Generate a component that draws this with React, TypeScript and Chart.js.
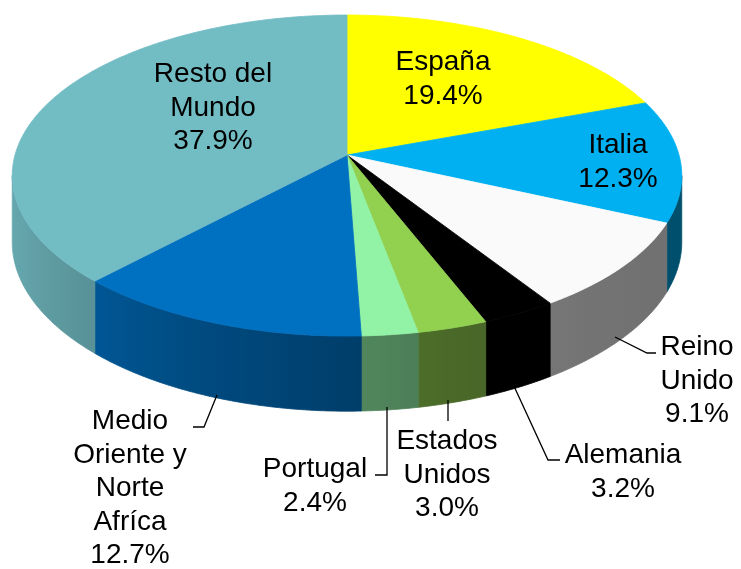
import React, { useEffect, useRef } from 'react';
import { Chart, registerables } from 'chart.js';

Chart.register(...registerables);

// ---- data ----
const categories = [
  'España',
  'Italia',
  'Reino Unido',
  'Alemania',
  'Estados Unidos',
  'Portugal',
  'Medio Oriente y Norte Afríca',
  'Resto del Mundo',
];
const shares = [19.4, 12.3, 9.1, 3.2, 3.0, 2.4, 12.7, 37.9];
const sliceColors = ['#FFFF00', '#00B0F0', '#FAFAFA', '#000000', '#92D050', '#92F2A6', '#0070C0', '#72BCC4'];
const labelLines = [
  ['España'],
  ['Italia'],
  ['Reino', 'Unido'],
  ['Alemania'],
  ['Estados', 'Unidos'],
  ['Portugal'],
  ['Medio', 'Oriente y', 'Norte', 'Afríca'],
  ['Resto del', 'Mundo'],
];

// ---- layout / style ----
const W = 741;
const H = 569;
const K = 0.128; // perspective strength
const SX = 332 / 140;
const SY = 157.9 / 140;
const DEPTH = 65.5 / 140;
const FONT = '28px "Liberation Sans", Arial, sans-serif';
const LINE_H = 33.5;

const labelPos = [
  { x: 443, y: 60 },
  { x: 618, y: 143 },
  { x: 697, y: 345 },
  { x: 623, y: 453 },
  { x: 447, y: 439 },
  { x: 315, y: 467 },
  { x: 130, y: 419 },
  { x: 213, y: 72 },
];
const leaders: number[][][] = [
  [],
  [],
  [[615, 337], [647, 353], [656, 353]],
  [[513, 384], [548, 460], [560, 460]],
  [[448, 400], [448, 421]],
  [[387, 407], [387, 475], [375, 475]],
  [[217, 395], [204, 427], [193, 427]],
  [],
];

function shade(hex: string, f: number): string {
  const n = parseInt(hex.slice(1), 16);
  const r = Math.round(((n >> 16) & 255) * f);
  const g = Math.round(((n >> 8) & 255) * f);
  const b = Math.round((n & 255) * f);
  return `rgb(${r},${g},${b})`;
}
const wallFactor = (a: number) => 0.45 + 0.45 * Math.pow((1 - Math.cos(a)) / 2, 2);

const pie3d = {
  id: 'pie3d',
  beforeDatasetsDraw(chart: any) {
    const meta = chart.getDatasetMeta(0);
    const arcs = meta.data as any[];
    if (!arcs.length) return false;
    const ctx: CanvasRenderingContext2D = chart.ctx;
    const cx = arcs[0].x;
    const cy = arcs[0].y;
    const R = arcs[0].outerRadius;
    const A = R * SX;
    const B = R * SY;
    const D = R * DEPTH;
    const proj = (a: number, down: boolean) => {
      const x = Math.cos(a);
      const y = Math.sin(a);
      const w = 1 - K * y;
      return [cx + (A * x) / w, cy + (B * y) / w + (down ? D / w : 0)];
    };
    const lo = Math.asin(K);
    const hi = Math.PI - lo;
    const colors = chart.data.datasets[0].backgroundColor as string[];

    ctx.save();
    ctx.lineJoin = 'round';
    // side walls
    arcs.forEach((arc, i) => {
      const a0 = Math.max(arc.startAngle, lo);
      const a1 = Math.min(arc.endAngle, hi);
      if (a1 <= a0) return;
      const n = Math.max(2, Math.ceil((a1 - a0) / 0.01));
      ctx.beginPath();
      for (let j = 0; j <= n; j++) {
        const p = proj(a0 + ((a1 - a0) * j) / n, false);
        if (j === 0) ctx.moveTo(p[0], p[1]);
        else ctx.lineTo(p[0], p[1]);
      }
      for (let j = n; j >= 0; j--) {
        const p = proj(a0 + ((a1 - a0) * j) / n, true);
        ctx.lineTo(p[0], p[1]);
      }
      ctx.closePath();
      const x0 = proj(a0, false)[0];
      const x1 = proj(a1, false)[0];
      let fill: any = shade(colors[i], wallFactor((a0 + a1) / 2));
      if (Math.abs(x1 - x0) > 0.5) {
        const g = ctx.createLinearGradient(x0, 0, x1, 0);
        for (let m = 0; m <= 10; m++) {
          const a = a0 + ((a1 - a0) * m) / 10;
          let t = (proj(a, false)[0] - x0) / (x1 - x0);
          t = Math.min(1, Math.max(0, t));
          g.addColorStop(t, shade(colors[i], wallFactor(a)));
        }
        fill = g;
      }
      ctx.fillStyle = fill;
      ctx.strokeStyle = fill;
      ctx.lineWidth = 0.8;
      ctx.fill();
      ctx.stroke();
    });
    // top faces
    arcs.forEach((arc, i) => {
      const s = arc.startAngle;
      const e = arc.endAngle;
      const n = Math.max(2, Math.ceil((e - s) / 0.01));
      ctx.beginPath();
      ctx.moveTo(cx, cy);
      for (let j = 0; j <= n; j++) {
        const p = proj(s + ((e - s) * j) / n, false);
        ctx.lineTo(p[0], p[1]);
      }
      ctx.closePath();
      ctx.fillStyle = colors[i];
      ctx.strokeStyle = colors[i];
      ctx.lineWidth = 0.8;
      ctx.fill();
      ctx.stroke();
    });
    ctx.restore();
    return false;
  },
  afterDraw(chart: any) {
    const ctx: CanvasRenderingContext2D = chart.ctx;
    const values = chart.data.datasets[0].data as number[];
    ctx.save();
    ctx.strokeStyle = '#000';
    ctx.lineWidth = 1.3;
    leaders.forEach((pts) => {
      if (!pts.length) return;
      ctx.beginPath();
      pts.forEach((p, j) => (j === 0 ? ctx.moveTo(p[0], p[1]) : ctx.lineTo(p[0], p[1])));
      ctx.stroke();
    });
    ctx.fillStyle = '#000';
    ctx.font = FONT;
    ctx.textAlign = 'center';
    ctx.textBaseline = 'alphabetic';
    labelLines.forEach((lines, i) => {
      const all = [...lines, `${values[i].toFixed(1)}%`];
      all.forEach((t, j) => {
        ctx.fillText(t, labelPos[i].x, labelPos[i].y + j * LINE_H + 10);
      });
    });
    ctx.restore();
  },
};

export default function App() {
  const ref = useRef<HTMLCanvasElement | null>(null);
  useEffect(() => {
    document.body.style.margin = '0';
    document.body.style.overflow = 'hidden';
    const canvas = ref.current;
    if (!canvas) return;
    const chart = new Chart(canvas, {
      type: 'pie',
      data: {
        labels: categories,
        datasets: [
          {
            data: shares,
            backgroundColor: sliceColors,
            borderWidth: 0,
            offset: 0,
            hoverOffset: 0,
          } as any,
        ],
      },
      options: {
        responsive: false,
        animation: false,
        devicePixelRatio: 1,
        events: [],
        layout: { padding: { left: 207, right: 254, top: 15, bottom: 274 } },
        plugins: { legend: { display: false }, tooltip: { enabled: false } },
      } as any,
      plugins: [pie3d as any],
    });
    return () => chart.destroy();
  }, []);
  return (
    <div style={{ width: W, height: H, background: '#fff' }}>
      <canvas ref={ref} width={W} height={H} style={{ display: 'block', width: W, height: H }} />
    </div>
  );
}
